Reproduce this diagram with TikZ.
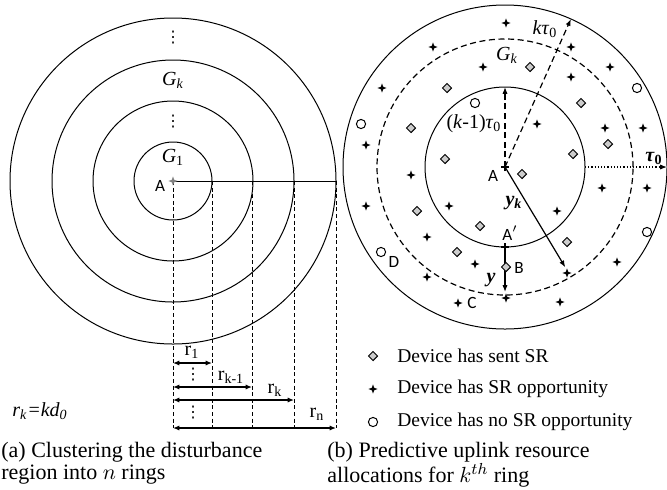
\documentclass[tikz,border=0pt]{standalone}
\usepackage{fontspec}
\setmainfont{Liberation Serif}
\newfontfamily\labelfont{Carlito}
\newfontfamily\dotfont{DejaVu Sans}
\usetikzlibrary{arrows.meta}

\tikzset{
  ring/.style={line width=0.5pt},
  guide/.style={line width=0.5pt, dash pattern=on 2pt off 1.3pt},
  dashline/.style={line width=0.6pt, dash pattern=on 3pt off 1.8pt},
  tip/.style={-{Latex[length=3.4pt,width=2.6pt]}},
  span/.style={line width=0.7pt, {Latex[length=3.2pt,width=2.6pt]}-{Latex[length=3.2pt,width=2.6pt]}},
  txt/.style={font=\fontsize{10}{12}\selectfont, inner sep=0pt},
  lbl/.style={font=\fontsize{8.6}{10}\labelfont, inner sep=0pt},
  dotcol/.style={font=\fontsize{8}{8}\dotfont, inner sep=0pt},
  legend/.style={font=\fontsize{9.75}{11}\selectfont, inner sep=0pt, anchor=west},
  caption/.style={font=\fontsize{11}{13}\selectfont, inner sep=0pt, anchor=west},
  sparkle/.pic={\fill (0,4.6) -- (1.2,1.2) -- (4.6,0) -- (1.2,-1.2) -- (0,-4.6)
    -- (-1.2,-1.2) -- (-4.6,0) -- (-1.2,1.2) -- cycle;},
  sentsr/.pic={\filldraw[fill=black!20, line width=0.45pt]
    (-4.6,0) -- (0,4.6) -- (4.6,0) -- (0,-4.6) -- cycle;},
  nosr/.pic={\filldraw[fill=white, line width=0.5pt] (0,0) circle (4.6);},
  plusmark/.pic={\draw[line width=1pt] (-4,0) -- (4,0) (0,-4) -- (0,4);}
}

\begin{document}
\begin{tikzpicture}[x=0.5pt,y=0.5pt]
\useasboundingbox (0,0) rectangle (667,-489);

% (a) rings round A
\coordinate (L) at (173,-181);
\foreach \r in {39,80,121,163}
  \draw[ring] (L) circle (\r);
\coordinate (Lrim) at (336,-181);
\draw[ring] (L) -- (Lrim);
\foreach \x/\n in {173/0,212/1,252/2,294/3,336/4}{
  \coordinate (top\n) at (\x,-181);
  \coordinate (foot\n) at (\x,-428);
  \draw[guide] (top\n) -- (foot\n);
}
\pic[gray] at (L) {sparkle};
\node[lbl] (la) at (160,-186) {A};
\node[txt] (g1) at (173,-157) {\textit{G}\textsubscript{1}};
\node[txt] (gk) at (173,-80) {\textit{G\textsubscript{k}}};
\node[dotcol] (dk) at (173,-38) {⋮};
\node[dotcol] (d1) at (173,-122) {⋮};

% radii
\coordinate (row1) at (0,-363);
\coordinate (row2) at (0,-387);
\coordinate (row3) at (0,-400);
\coordinate (row4) at (0,-428);
\draw[span] (foot0 |- row1) -- (foot1 |- row1);
\draw[span] (foot0 |- row2) -- (foot2 |- row2);
\draw[span] (foot0 |- row3) -- (foot3 |- row3);
\draw[span] (foot0 |- row4) -- (foot4 |- row4);
\node[txt] (r1) at (192,-352) {r\textsubscript{1}};
\node[txt] (rkm) at (231,-377) {r\textsubscript{k-1}};
\node[txt] (rk) at (275,-390) {r\textsubscript{k}};
\node[txt] (rn) at (317,-414) {r\textsubscript{n}};
\node[dotcol] (d2) at (193,-375) {⋮};
\node[dotcol] (d3) at (193,-413) {⋮};
\node[txt] (rule) at (40,-411) {\textit{r\textsubscript{k}=kd\textsubscript{0}}};

% (b) k-th ring
\coordinate (O) at (505,-167);
\draw[ring] (O) circle (80);
\draw[ring, dashline] (O) circle (128);
\draw[ring] (O) circle (162);
\path (O) ++(90:80) coordinate (inTop);
\path (O) ++(0:80) coordinate (inRight);
\path (O) ++(-90:80) coordinate (Ap);
\path (O) ++(66:162) coordinate (kTop);
\path (O) ++(0:162) coordinate (outRight);
\path (O) ++(-59:117) coordinate (ykTip);
\path (O) ++(-90:125) coordinate (dashBot);
\draw[dashline, tip] (O) -- (inTop);
\draw[dashline, tip] (O) -- (kTop);
\draw[line width=0.6pt, dash pattern=on 0.6pt off 1pt, tip] (inRight) -- (outRight);
\draw[line width=0.6pt, tip] (O) -- (ykTip);
\draw[line width=0.6pt, tip] (Ap) -- (dashBot);

\foreach \p in {(506,-23),(433,-47),(571,-47),(483,-67),(610,-67),(571,-77),
    (382,-88),(537,-124),(605,-128),(643,-128),(366,-145),(411,-175),
    (602,-188),(647,-188),(366,-206),(449,-206),(557,-211),(427,-237),
    (475,-264),(617,-262),(427,-277),(567,-273),(506,-298),(458,-303),(560,-302)}
  \pic at \p {sparkle};
\foreach \p in {(530,-67),(447,-88),(581,-103),(411,-128),(608,-144),(445,-159),
    (573,-154),(522,-174),(417,-211),(480,-226),(567,-242),(457,-252),(506,-267)}
  \pic at \p {sentsr};
\foreach \p in {(475,-103),(637,-88),(361,-124),(647,-232),(381,-252)}
  \pic at \p {nosr};
\pic at (O) {plusmark};
\pic at (Ap) {plusmark};

\node[txt] (gkb) at (507,-55) {\textit{G\textsubscript{k}}};
\node[txt] (kmt) at (474,-124) {(\textit{k}-1)\textit{τ}\textsubscript{0}};
\node[txt] (kt) at (545,-29) {\textit{kτ}\textsubscript{0}};
\node[txt] (t0) at (654,-158) {\textbf{\textit{τ}\textsubscript{0}}};
\node[txt] (yk) at (514,-203) {\textbf{\textit{y\textsubscript{k}}}};
\node[txt] (yy) at (491,-280) {\textbf{\textit{y}}};
\node[lbl] (lA) at (493,-176) {A};
\node[lbl] (lAp) at (510,-233) {A$'$};
\node[lbl] (lB) at (519,-268) {B};
\node[lbl] (lC) at (472,-303) {C};
\node[lbl] (lD) at (394,-262) {D};

% legend
\pic at (373,-356) {sentsr};
\pic at (373,-389) {sparkle};
\pic at (373,-422) {nosr};
\node[legend] (key1) at (397,-356) {Device has sent SR};
\node[legend] (key2) at (397,-389) {Device has SR opportunity};
\node[legend] (key3) at (397,-422) {Device has no SR opportunity};

% captions
\node[caption] (capa1) at (1,-452) {(a) Clustering the disturbance};
\node[caption] (capa2) at (1,-475) {region into $n$ rings};
\node[caption] (capb1) at (327,-452) {(b) Predictive uplink resource};
\node[caption] (capb2) at (327,-475) {allocations for $k^{th}$ ring};
\end{tikzpicture}
\end{document}
